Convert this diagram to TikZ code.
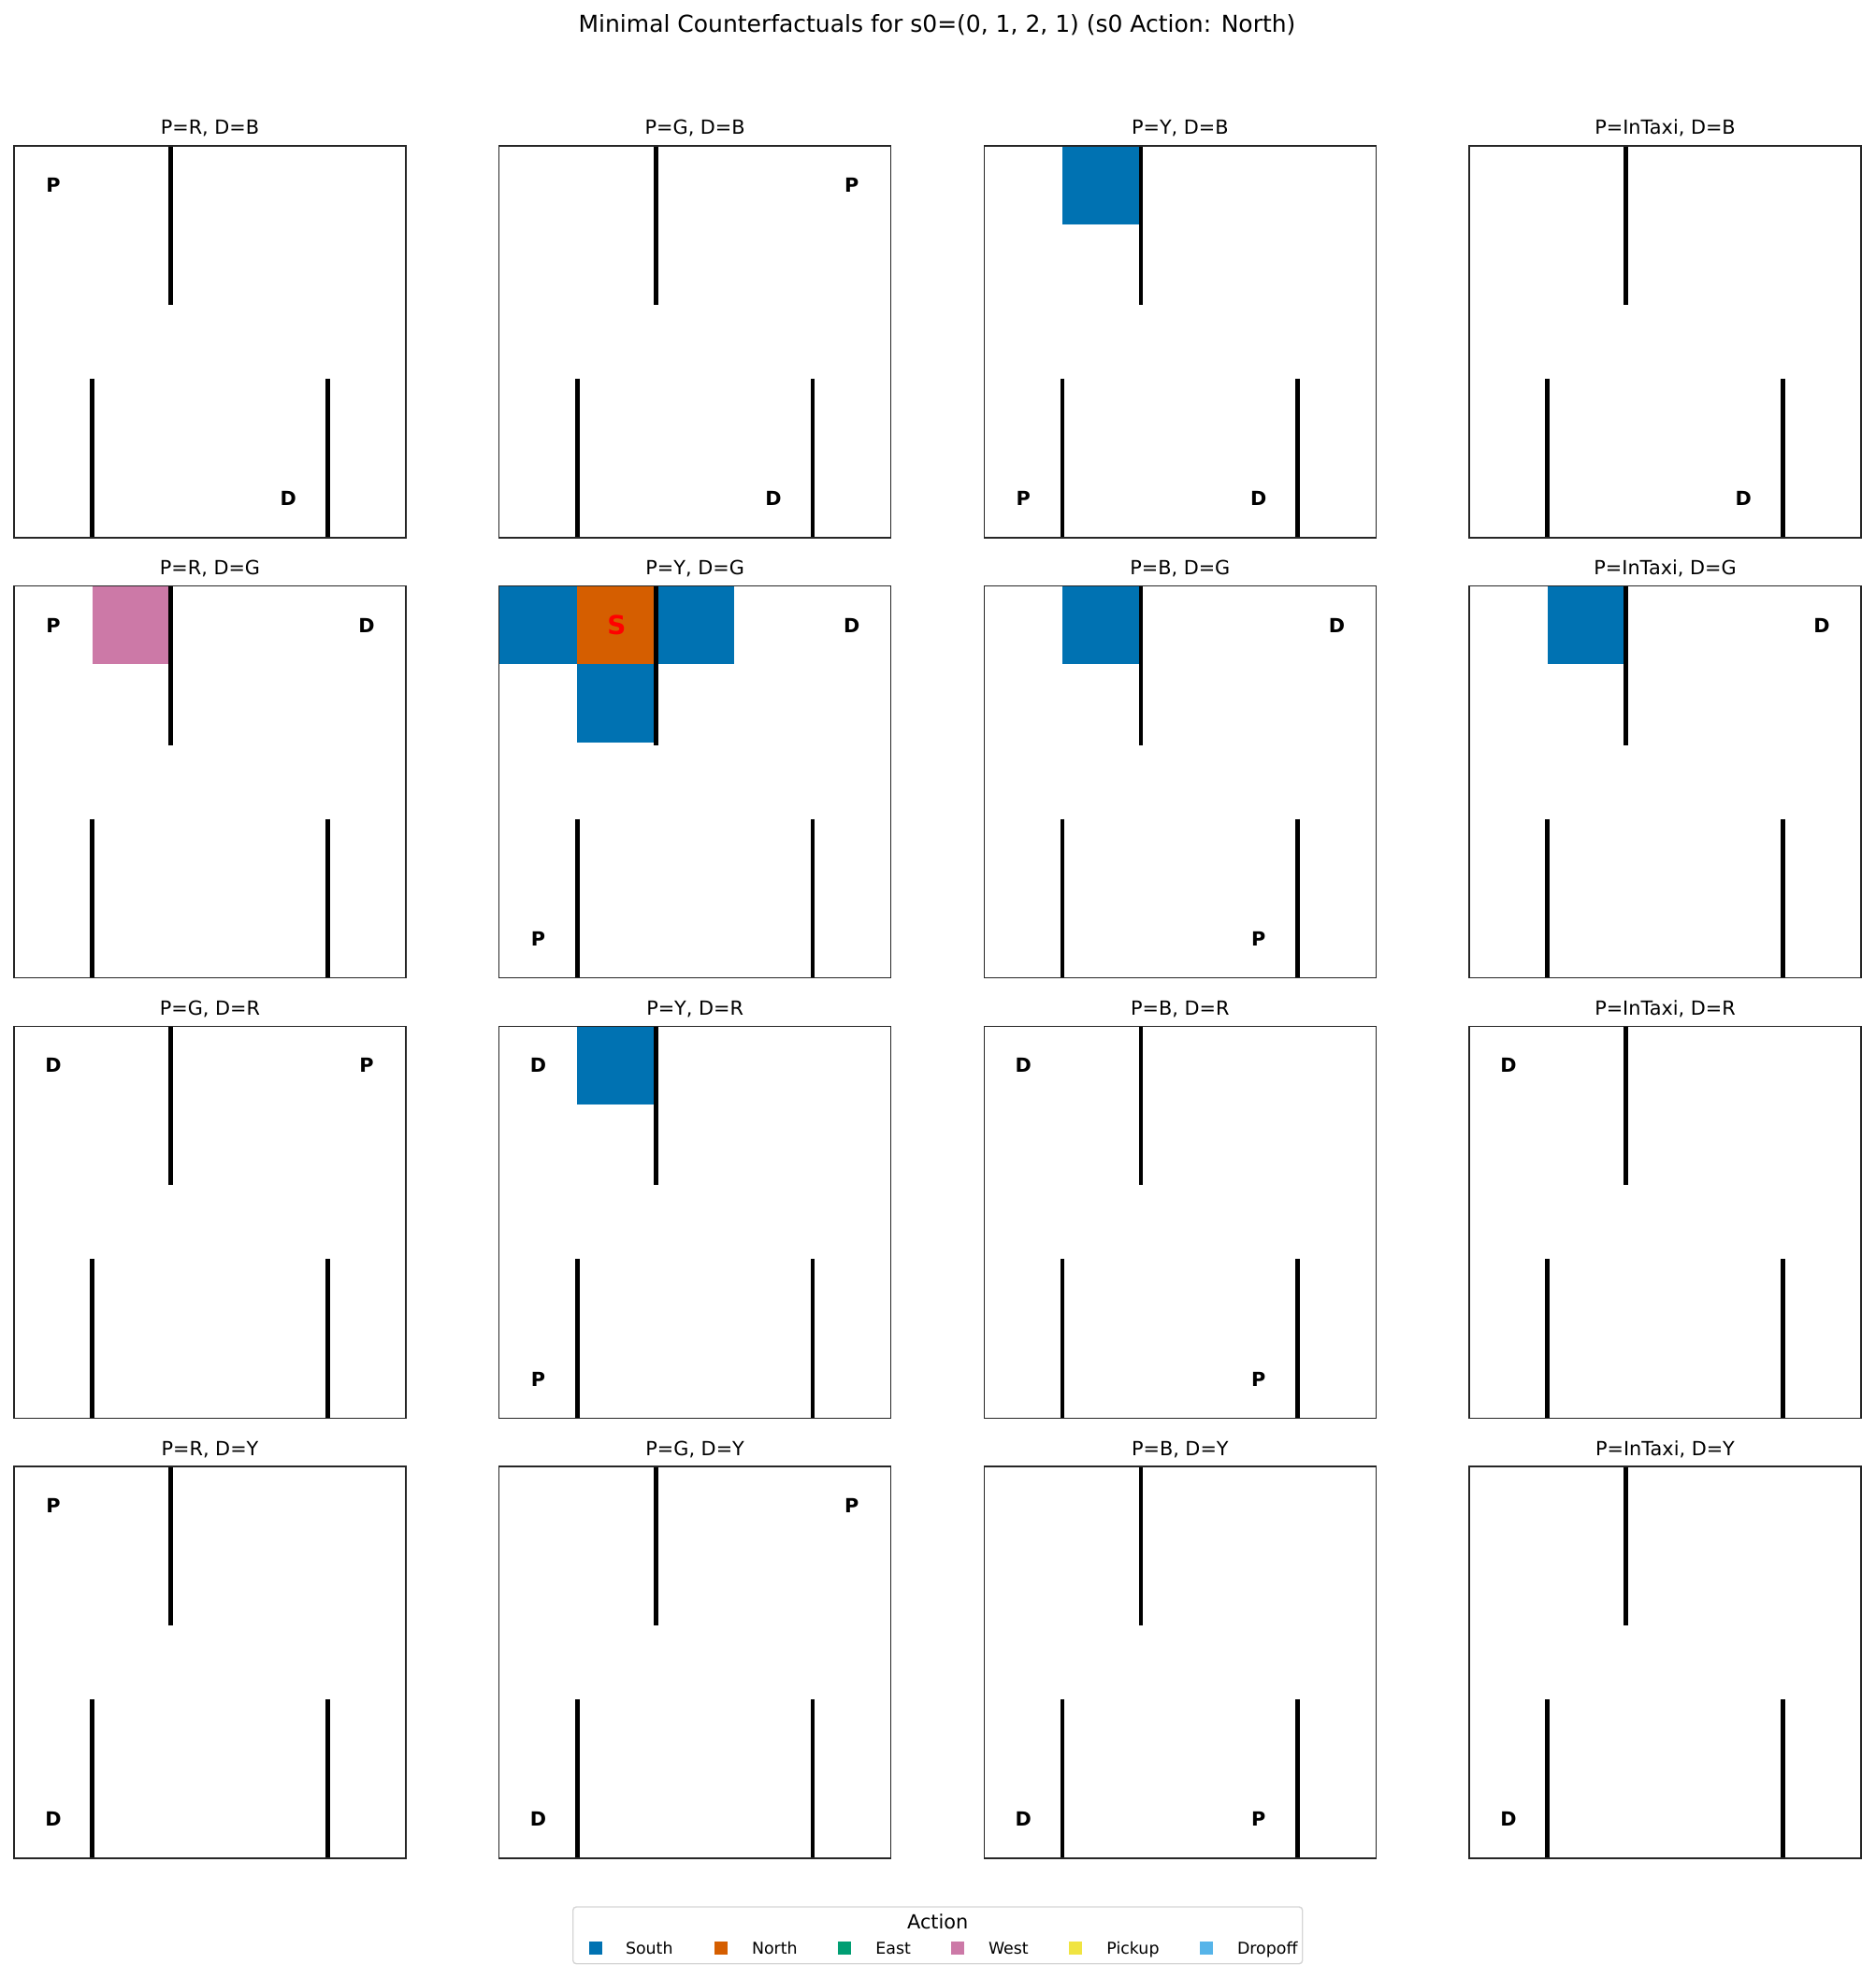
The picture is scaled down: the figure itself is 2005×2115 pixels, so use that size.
\documentclass[tikz,border=0pt]{standalone}
\usepackage{fontspec}
\setmainfont{DejaVu Sans}
\definecolor{southc}{HTML}{0072B2}
\definecolor{northc}{HTML}{D55E00}
\definecolor{eastc}{HTML}{009E73}
\definecolor{westc}{HTML}{CC79A7}
\definecolor{pickupc}{HTML}{F0E442}
\definecolor{dropoffc}{HTML}{56B4E9}
\definecolor{legedge}{HTML}{D6D6D6}
\newcommand{\taxiwalls}{%
  \draw[wall] (2,0) -- (2,2.03);
  \draw[wall] (1,2.97) -- (1,5);
  \draw[wall] (4,2.97) -- (4,5);
  \draw[frame] (0,0) rectangle (5,5);}
\begin{document}
\begin{tikzpicture}[x=0.1mm,y=-0.1mm,
  panel/.style 2 args={shift={({1.5mm+#1*51.867mm},{-15.6mm-#2*47.067mm})},x=8.38mm,y=-8.38mm},
  wall/.style={line width=0.47mm, line cap=butt, black},
  frame/.style={line width=0.15mm, black!85},
  lbl/.style={font=\bfseries\fontsize{5.92pt}{7pt}\selectfont, inner sep=0pt},
  ttl/.style={font=\fontsize{5.92pt}{7pt}\selectfont, inner sep=0pt, anchor=base, yshift=1.2mm},
  cellS/.style={fill=southc},
  cellN/.style={fill=northc},
  cellW/.style={fill=westc},
  mk/.style={minimum size=1.4mm, inner sep=0pt, draw=none},
  legtxt/.style={font=\fontsize{4.95pt}{6pt}\selectfont, inner sep=0pt, anchor=base west},
  legbox/.style={draw=legedge, line width=0.14mm, fill=white, rounded corners=0.35mm}]
\useasboundingbox (0,0) rectangle (2005,2115);
\node[font=\fontsize{7.11pt}{8.5pt}\selectfont, anchor=base, inner sep=0pt] (title) at (1002,35) {Minimal Counterfactuals for s0=(0, 1, 2, 1) (s0 Action: North)};

% Row 0: D=B
\begin{scope}[panel={0}{0}]
  \taxiwalls
  \node[ttl] (t00) at (2.5,0) {P=R, D=B};
  \node[lbl] (p00) at (0.5,0.5) {P};
  \node[lbl] (d00) at (3.5,4.5) {D};
\end{scope}
\begin{scope}[panel={1}{0}]
  \taxiwalls
  \node[ttl] (t10) at (2.5,0) {P=G, D=B};
  \node[lbl] (p10) at (4.5,0.5) {P};
  \node[lbl] (d10) at (3.5,4.5) {D};
\end{scope}
\begin{scope}[panel={2}{0}]
  \fill[cellS] (1,0) rectangle (2,1);
  \taxiwalls
  \node[ttl] (t20) at (2.5,0) {P=Y, D=B};
  \node[lbl] (p20) at (0.5,4.5) {P};
  \node[lbl] (d20) at (3.5,4.5) {D};
\end{scope}
\begin{scope}[panel={3}{0}]
  \taxiwalls
  \node[ttl] (t30) at (2.5,0) {P=InTaxi, D=B};
  \node[lbl] (d30) at (3.5,4.5) {D};
\end{scope}

% Row 1: D=G
\begin{scope}[panel={0}{1}]
  \fill[cellW] (1,0) rectangle (2,1);
  \taxiwalls
  \node[ttl] (t01) at (2.5,0) {P=R, D=G};
  \node[lbl] (p01) at (0.5,0.5) {P};
  \node[lbl] (d01) at (4.5,0.5) {D};
\end{scope}
\begin{scope}[panel={1}{1}]
  \fill[cellS] (0,0) rectangle (1,1);
  \fill[cellN] (1,0) rectangle (2,1);
  \fill[cellS] (2,0) rectangle (3,1);
  \fill[cellS] (1,1) rectangle (2,2);
  \taxiwalls
  \node[ttl] (t11) at (2.5,0) {P=Y, D=G};
  \node[font=\bfseries\fontsize{7.91pt}{9pt}\selectfont, inner sep=0pt, text=red] (s11) at (1.5,0.5) {S};
  \node[lbl] (p11) at (0.5,4.5) {P};
  \node[lbl] (d11) at (4.5,0.5) {D};
\end{scope}
\begin{scope}[panel={2}{1}]
  \fill[cellS] (1,0) rectangle (2,1);
  \taxiwalls
  \node[ttl] (t21) at (2.5,0) {P=B, D=G};
  \node[lbl] (p21) at (3.5,4.5) {P};
  \node[lbl] (d21) at (4.5,0.5) {D};
\end{scope}
\begin{scope}[panel={3}{1}]
  \fill[cellS] (1,0) rectangle (2,1);
  \taxiwalls
  \node[ttl] (t31) at (2.5,0) {P=InTaxi, D=G};
  \node[lbl] (d31) at (4.5,0.5) {D};
\end{scope}

% Row 2: D=R
\begin{scope}[panel={0}{2}]
  \taxiwalls
  \node[ttl] (t02) at (2.5,0) {P=G, D=R};
  \node[lbl] (p02) at (4.5,0.5) {P};
  \node[lbl] (d02) at (0.5,0.5) {D};
\end{scope}
\begin{scope}[panel={1}{2}]
  \fill[cellS] (1,0) rectangle (2,1);
  \taxiwalls
  \node[ttl] (t12) at (2.5,0) {P=Y, D=R};
  \node[lbl] (p12) at (0.5,4.5) {P};
  \node[lbl] (d12) at (0.5,0.5) {D};
\end{scope}
\begin{scope}[panel={2}{2}]
  \taxiwalls
  \node[ttl] (t22) at (2.5,0) {P=B, D=R};
  \node[lbl] (p22) at (3.5,4.5) {P};
  \node[lbl] (d22) at (0.5,0.5) {D};
\end{scope}
\begin{scope}[panel={3}{2}]
  \taxiwalls
  \node[ttl] (t32) at (2.5,0) {P=InTaxi, D=R};
  \node[lbl] (d32) at (0.5,0.5) {D};
\end{scope}

% Row 3: D=Y
\begin{scope}[panel={0}{3}]
  \taxiwalls
  \node[ttl] (t03) at (2.5,0) {P=R, D=Y};
  \node[lbl] (p03) at (0.5,0.5) {P};
  \node[lbl] (d03) at (0.5,4.5) {D};
\end{scope}
\begin{scope}[panel={1}{3}]
  \taxiwalls
  \node[ttl] (t13) at (2.5,0) {P=G, D=Y};
  \node[lbl] (p13) at (4.5,0.5) {P};
  \node[lbl] (d13) at (0.5,4.5) {D};
\end{scope}
\begin{scope}[panel={2}{3}]
  \taxiwalls
  \node[ttl] (t23) at (2.5,0) {P=B, D=Y};
  \node[lbl] (p23) at (3.5,4.5) {P};
  \node[lbl] (d23) at (0.5,4.5) {D};
\end{scope}
\begin{scope}[panel={3}{3}]
  \taxiwalls
  \node[ttl] (t33) at (2.5,0) {P=InTaxi, D=Y};
  \node[lbl] (d33) at (0.5,4.5) {D};
\end{scope}

% Legend
\draw[legbox] (612.7,2039) rectangle (1392.7,2099.7);
\node[font=\fontsize{5.92pt}{7pt}\selectfont, anchor=base, inner sep=0pt] (legtitle) at (1002.7,2062) {Action};
\node[mk, fill=southc] (m1) at (637,2083) {};
\node[legtxt] (l1) at (668.3,2089) {South};
\node[mk, fill=northc] (m2) at (771,2083) {};
\node[legtxt] (l2) at (803.3,2089) {North};
\node[mk, fill=eastc] (m3) at (903,2083) {};
\node[legtxt] (l3) at (935.7,2089) {East};
\node[mk, fill=westc] (m4) at (1024,2083) {};
\node[legtxt] (l4) at (1056.3,2089) {West};
\node[mk, fill=pickupc] (m5) at (1150,2083) {};
\node[legtxt] (l5) at (1182.7,2089) {Pickup};
\node[mk, fill=dropoffc] (m6) at (1290,2083) {};
\node[legtxt] (l6) at (1322.3,2089) {Dropoff};
\end{tikzpicture}
\end{document}
